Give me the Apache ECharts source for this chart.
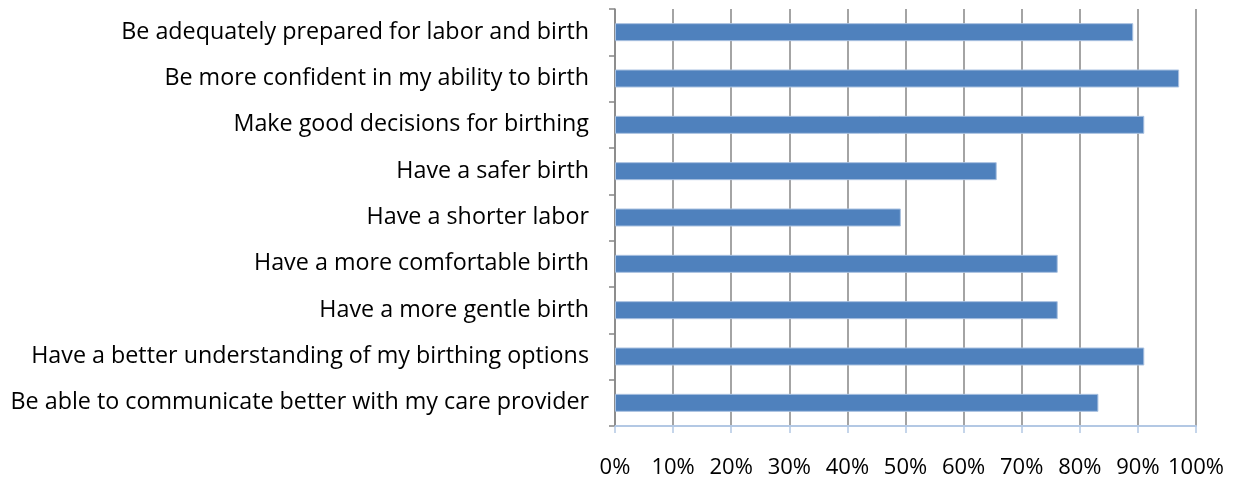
<!DOCTYPE html>
<html><head><meta charset="utf-8">
<script src="https://cdn.jsdelivr.net/npm/echarts@6/dist/echarts.min.js"></script>
<style>html,body{margin:0;padding:0;background:#fff}#c{width:1239px;height:480px}</style>
</head><body><div id="c"></div>
<script>
const categories = [
  "Be adequately prepared for labor and birth",
  "Be more confident in my ability to birth",
  "Make good decisions for birthing",
  "Have a safer birth",
  "Have a shorter labor",
  "Have a more comfortable birth",
  "Have a more gentle birth",
  "Have a better understanding of my birthing options",
  "Be able to communicate better with my care provider"
];
const values = [89.2, 97.1, 91.1, 65.7, 49.2, 76.2, 76.2, 91.1, 83.2];
const xTicks = [0, 10, 20, 30, 40, 50, 60, 70, 80, 90, 100];

const chart = echarts.init(document.getElementById('c'), null, {renderer: 'canvas'});
chart.setOption({
  animation: false,
  grid: {left: 615, right: 43, top: 9, bottom: 54, containLabel: false},
  xAxis: {
    type: 'value', min: xTicks[0], max: xTicks[xTicks.length - 1], interval: 10,
    axisLine: {show: true, lineStyle: {color: '#b3c8e4', width: 2}},
    axisTick: {show: true, length: 7, lineStyle: {color: '#b3c8e4', width: 1.5}},
    axisLabel: {formatter: '{value}%', fontFamily: 'Open Sans', fontSize: 22, color: '#000', margin: 31},
    splitLine: {show: true, lineStyle: {color: '#868686', width: 1.5}}
  },
  yAxis: {
    type: 'category', data: categories, inverse: true,
    axisLine: {show: true, lineStyle: {color: '#868686', width: 1.5}},
    axisTick: {show: true, length: 6, lineStyle: {color: '#868686', width: 1.5}},
    axisLabel: {fontFamily: 'Open Sans', fontSize: 23.3, color: '#000', margin: 26}
  },
  series: [{
    type: 'bar', data: values, barWidth: 18,
    itemStyle: {color: '#4f81bd', borderColor: '#a9c1e0', borderWidth: 1}
  }]
});
</script></body></html>
